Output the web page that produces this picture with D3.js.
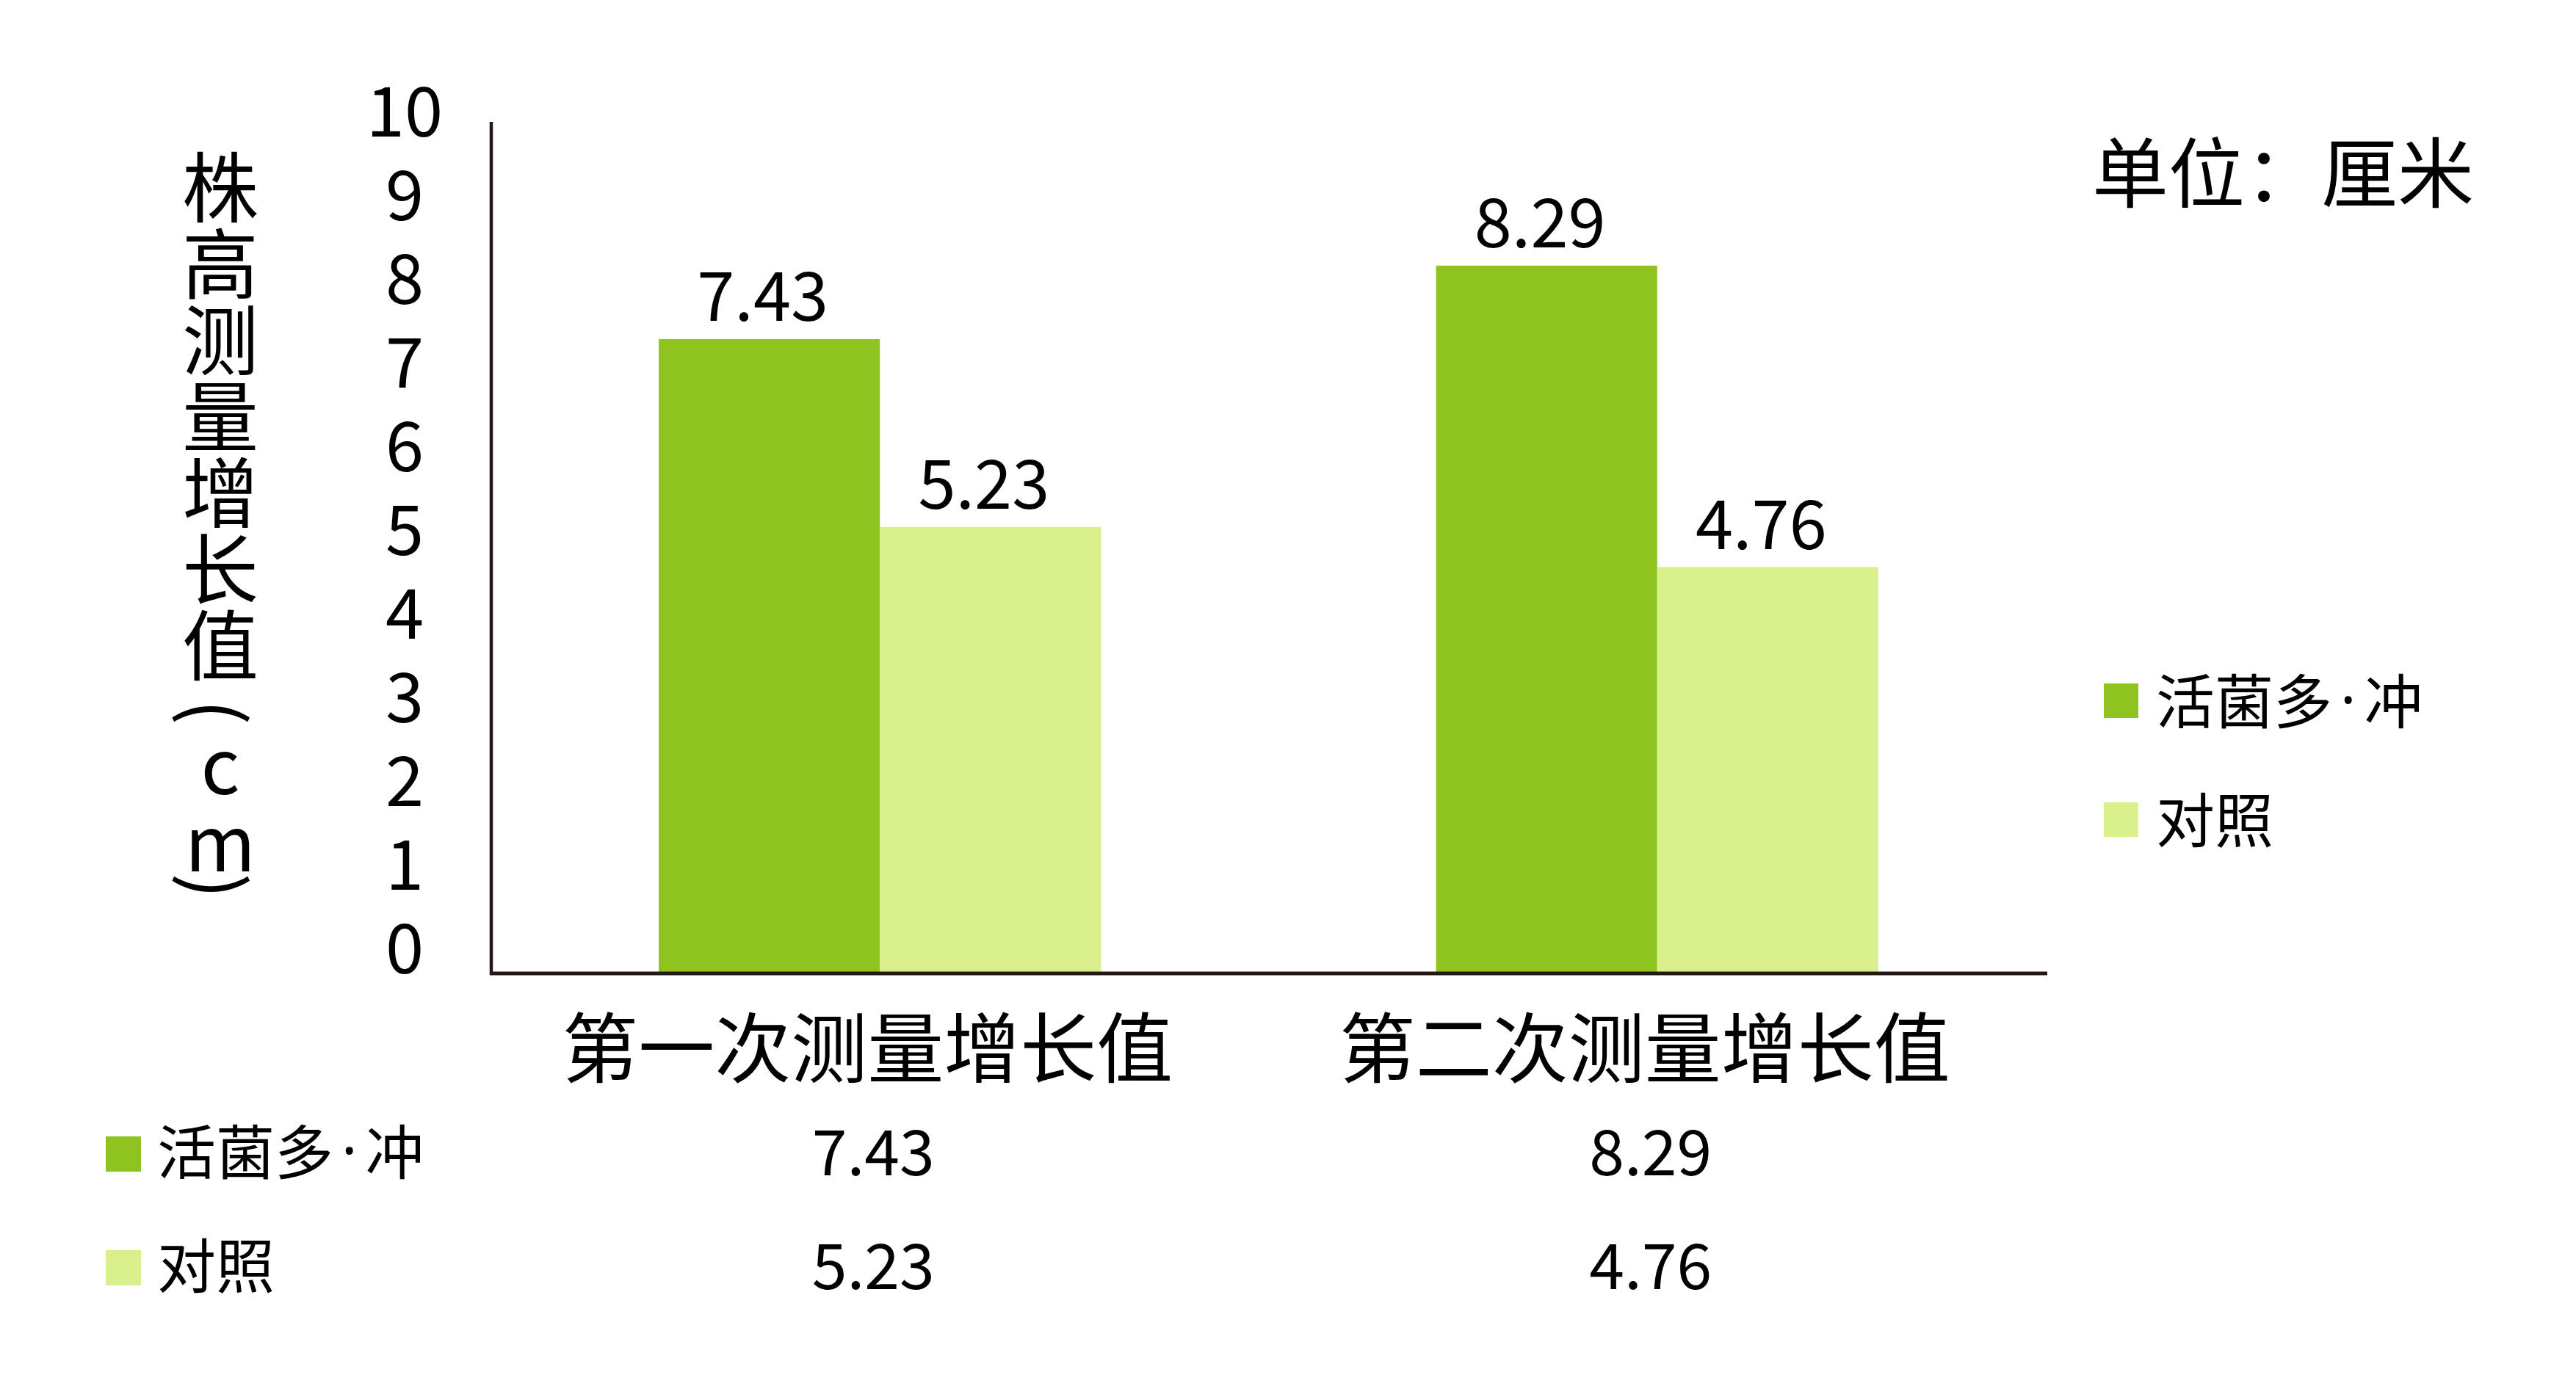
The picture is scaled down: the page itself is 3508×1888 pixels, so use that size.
<!DOCTYPE html>
<html>
<head>
<meta charset="utf-8">
<script src="https://cdn.jsdelivr.net/npm/d3@7"></script>
<style>
  html, body { margin: 0; padding: 0; background: #ffffff; }
  svg { display: block; }
  text { font-family: "Noto Sans CJK SC", "Noto Sans", sans-serif; fill: #000; }
</style>
</head>
<body>
<svg id="chart" width="3508" height="1888"></svg>
<script>
// ---- data ----
const categories = ["第一次测量增长值", "第二次测量增长值"];
const seriesNames = ["活菌多·冲", "对照"];
const seriesActive = [7.43, 8.29];
const seriesControl = [5.23, 4.76];
const yTickValues = [0, 1, 2, 3, 4, 5, 6, 7, 8, 9, 10];
const yTitleChars = ["株", "高", "测", "量", "增", "长", "值", "(", "c", "m", ")"];
const unitLabel = "单位：厘米";
const seriesColors = ["#8FC31F", "#D9F08C"];

const seriesValues = [seriesActive, seriesControl];
const rows = categories.map((c, i) => ({
  category: c,
  values: seriesNames.map((s, j) => ({ series: s, value: seriesValues[j][i] }))
}));

// ---- layout ----
const svg = d3.select("#chart");
const plot = { left: 669, right: 2786, top: 163, bottom: 1326 };
const axisColor = "#231815";

const x0 = d3.scaleBand().domain(categories).range([plot.left, plot.right])
  .paddingInner(0.431).paddingOuter(0.2155);
const x1 = d3.scaleBand().domain(seriesNames).range([0, x0.bandwidth()]).padding(0);
const y = d3.scaleLinear().domain([0, 10]).range([plot.bottom, plot.top]);
const yLabelPos = d3.scaleLinear().domain([0, 10]).range([1285, 145]);
const color = d3.scaleOrdinal().domain(seriesNames).range(seriesColors);

// write a series name, with a narrow middle dot
function writeName(sel) {
  sel.each(function(d) {
    const t = d3.select(this);
    const parts = d.split("·");
    t.append("tspan").text(parts[0]);
    if (parts.length > 1) {
      t.append("tspan").attr("dx", 11).style("font-family", "'Noto Sans', sans-serif").text("·");
      t.append("tspan").attr("dx", 11).text(parts[1]);
    }
  });
}

// bars
const groups = svg.append("g").selectAll("g").data(rows).join("g")
  .attr("transform", d => `translate(${x0(d.category)},0)`);
groups.selectAll("rect").data(d => d.values).join("rect")
  .attr("x", d => x1(d.series))
  .attr("y", d => y(d.value))
  .attr("width", x1.bandwidth())
  .attr("height", d => y(0) - y(d.value))
  .attr("fill", d => color(d.series));

// value labels above bars
groups.selectAll("text.val").data(d => d.values).join("text")
  .attr("class", "val")
  .attr("x", d => x1(d.series) + x1.bandwidth() / 2 - 9)
  .attr("y", d => y(d.value) - 65)
  .attr("text-anchor", "middle")
  .attr("dominant-baseline", "central")
  .attr("font-size", 92)
  .text(d => d.value.toFixed(2));

// axes lines
svg.append("line")
  .attr("x1", plot.left).attr("x2", plot.left)
  .attr("y1", plot.bottom + 2).attr("y2", 166)
  .attr("stroke", axisColor).attr("stroke-width", 4.5);
svg.append("line")
  .attr("x1", plot.left - 2).attr("x2", 2788)
  .attr("y1", plot.bottom).attr("y2", plot.bottom)
  .attr("stroke", axisColor).attr("stroke-width", 5);

// y tick labels
svg.append("g").selectAll("text").data(yTickValues).join("text")
  .attr("x", 551)
  .attr("y", d => yLabelPos(d))
  .attr("text-anchor", "middle")
  .attr("dominant-baseline", "central")
  .attr("font-size", 94)
  .text(d => d);

// y title (vertical, upright characters; parentheses turned to vertical form)
const titleCenters = [249, 353, 457, 561, 665, 769, 873, 970, 1036, 1141, 1207];
svg.append("g").selectAll("text").data(yTitleChars).join("text")
  .attr("x", 300)
  .attr("y", (d, i) => titleCenters[i])
  .attr("text-anchor", "middle")
  .attr("dominant-baseline", "central")
  .attr("font-size", 104)
  .attr("transform", (d, i) => (d === "(" || d === ")") ? `rotate(90, 300, ${titleCenters[i]})` : null)
  .text(d => d);

// category labels
svg.append("g").selectAll("text").data(categories).join("text")
  .attr("x", d => x0(d) + x0.bandwidth() / 2 - 17)
  .attr("y", 1421)
  .attr("text-anchor", "middle")
  .attr("dominant-baseline", "central")
  .attr("font-size", 104)
  .text(d => d);

// unit label
svg.append("text")
  .attr("x", 2849).attr("y", 229)
  .attr("dominant-baseline", "central")
  .attr("font-size", 104)
  .text(unitLabel);

// right legend
const legendRight = svg.append("g").selectAll("g").data(seriesNames).join("g")
  .attr("transform", (d, i) => `translate(2865, ${955 + i * 162})`);
legendRight.append("rect")
  .attr("x", 0).attr("y", -24).attr("width", 47).attr("height", 47)
  .attr("fill", d => color(d));
legendRight.append("text")
  .attr("x", 71).attr("y", -5)
  .attr("dominant-baseline", "central")
  .attr("font-size", 80)
  .call(writeName);

// data table below
const tableRows = svg.append("g").selectAll("g").data(seriesNames).join("g")
  .attr("transform", (d, i) => `translate(0, ${1572 + i * 155})`);
tableRows.append("rect")
  .attr("x", 144).attr("y", -24).attr("width", 48).attr("height", 48)
  .attr("fill", d => color(d));
tableRows.append("text")
  .attr("x", 214).attr("y", -8)
  .attr("dominant-baseline", "central")
  .attr("font-size", 80)
  .call(writeName);
tableRows.each(function(s, j) {
  d3.select(this).selectAll("text.cell").data(categories).join("text")
    .attr("class", "cell")
    .attr("x", c => x0(c) + x0.bandwidth() / 2 - 9)
    .attr("y", -9)
    .attr("text-anchor", "middle")
    .attr("dominant-baseline", "central")
    .attr("font-size", 86)
    .text((c, i) => seriesValues[j][i].toFixed(2));
});
</script>
</body>
</html>
